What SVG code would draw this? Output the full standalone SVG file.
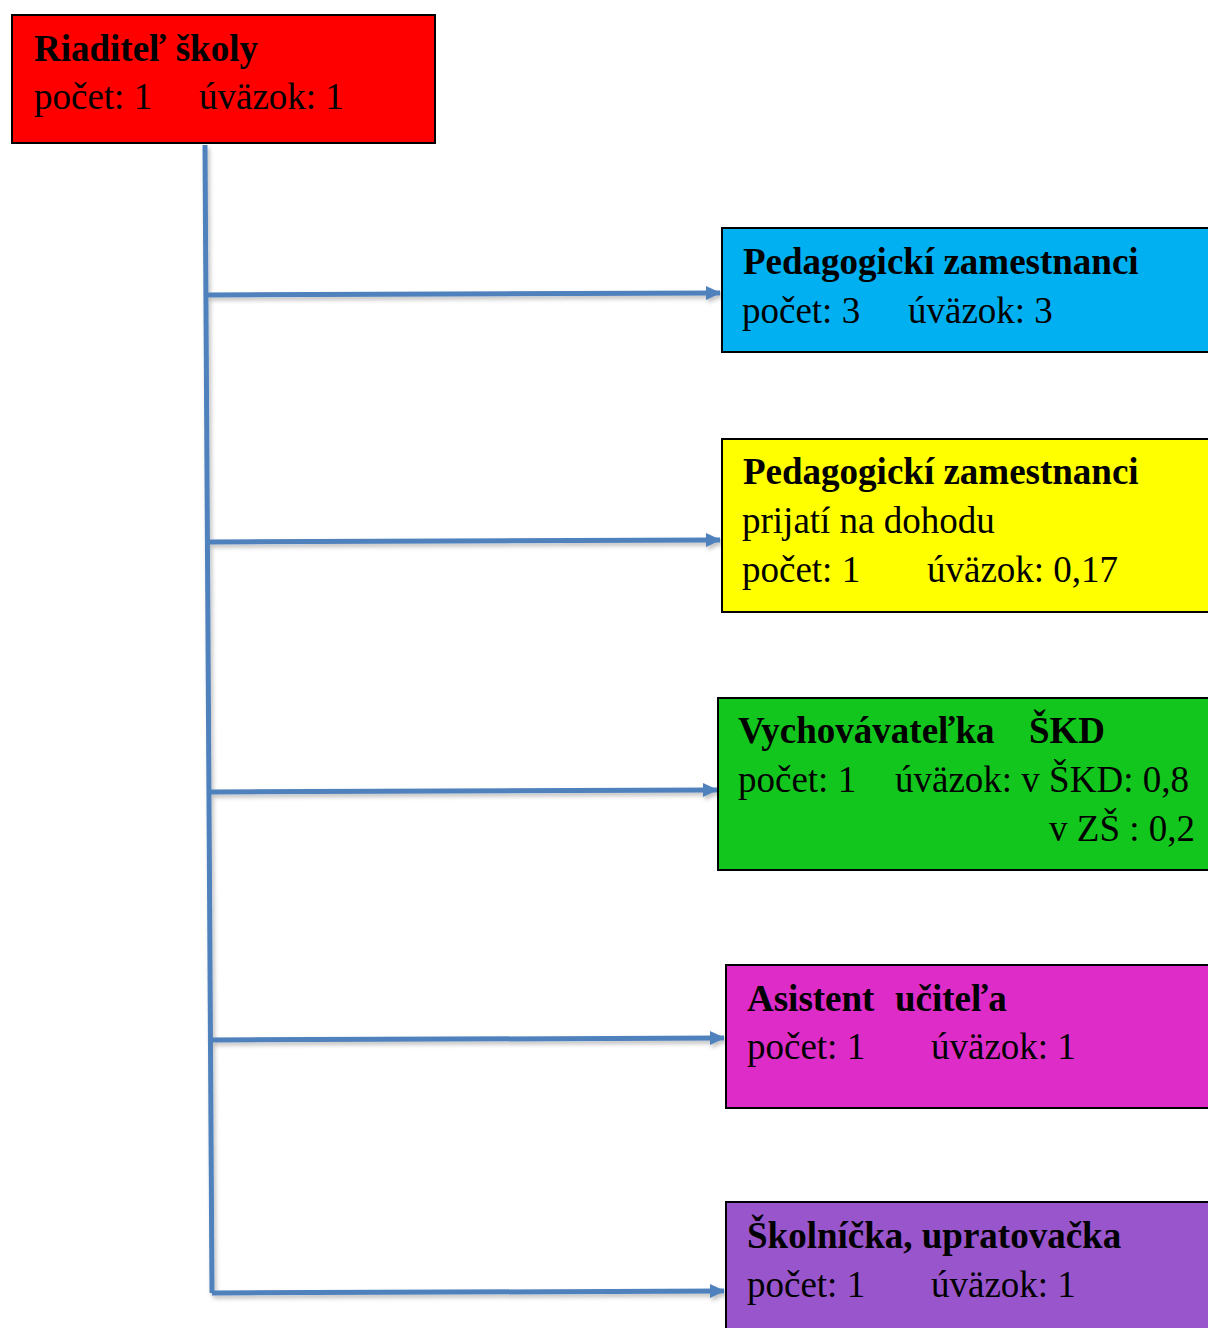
<svg xmlns="http://www.w3.org/2000/svg" width="1208" height="1328" viewBox="0 0 1208 1328">
<style>
.box{stroke:#000;stroke-width:2}
.t{font-family:"Liberation Serif","Times New Roman",serif;font-size:37px;fill:#000}
.b{font-weight:bold}
.c{fill:none;stroke:#4F81BD;stroke-width:5}
</style>
<defs>
<marker id="ah" markerUnits="userSpaceOnUse" markerWidth="16" markerHeight="16" refX="14" refY="8" orient="auto">
<path d="M0,1 L15,8 L0,15 Z" fill="#4F81BD"/>
</marker>
<filter id="sh" x="-5%" y="-5%" width="110%" height="120%">
<feDropShadow dx="2" dy="3" stdDeviation="2" flood-color="#000" flood-opacity="0.25"/>
</filter>
</defs>
<rect width="1208" height="1328" fill="#fff"/>
<g id="connectors" filter="url(#sh)">
<path class="c" d="M205,145 L212,1293" stroke-width="6"/>
<path class="c" d="M208,295 L720,293" marker-end="url(#ah)"/>
<path class="c" d="M209,542 L720,540" marker-end="url(#ah)"/>
<path class="c" d="M210,792 L717,790" marker-end="url(#ah)"/>
<path class="c" d="M211,1040 L724,1038" marker-end="url(#ah)"/>
<path class="c" d="M212,1293 L724,1291" marker-end="url(#ah)"/>
</g>
<g id="riaditel">
<rect class="box" x="12" y="15" width="423" height="128" fill="#FF0000"/>
<text class="t b" x="34" y="61">Riaditeľ školy</text>
<text class="t" x="34" y="109">počet: 1</text>
<text class="t" x="199" y="109">úväzok: 1</text>
</g>
<g id="pedagogicki">
<rect class="box" x="722" y="228" width="490" height="124" fill="#00B0F0"/>
<text class="t b" x="743" y="274">Pedagogickí zamestnanci</text>
<text class="t" x="742" y="323">počet: 3</text>
<text class="t" x="908" y="323">úväzok: 3</text>
</g>
<g id="pedagogicki-dohoda">
<rect class="box" x="722" y="439" width="490" height="173" fill="#FFFF00"/>
<text class="t b" x="743" y="484">Pedagogickí zamestnanci</text>
<text class="t" x="742" y="533">prijatí na dohodu</text>
<text class="t" x="742" y="582">počet: 1</text>
<text class="t" x="927" y="582">úväzok: 0,17</text>
</g>
<g id="vychovavatelka">
<rect class="box" x="718" y="698" width="494" height="172" fill="#13C61D"/>
<text class="t b" x="738" y="743">Vychovávateľka</text>
<text class="t b" x="1029" y="743">ŠKD</text>
<text class="t" x="738" y="792">počet: 1</text>
<text class="t" x="895" y="792">úväzok: v ŠKD: 0,8</text>
<text class="t" x="1195" y="841" text-anchor="end">v ZŠ : 0,2</text>
</g>
<g id="asistent">
<rect class="box" x="726" y="965" width="486" height="143" fill="#DD2CC8"/>
<text class="t b" x="747" y="1011">Asistent</text>
<text class="t b" x="895" y="1011">učiteľa</text>
<text class="t" x="747" y="1059">počet: 1</text>
<text class="t" x="931" y="1059">úväzok: 1</text>
</g>
<g id="skolnicka">
<rect class="box" x="726" y="1202" width="486" height="130" fill="#9955CC"/>
<text class="t b" x="747" y="1248">Školníčka, upratovačka</text>
<text class="t" x="747" y="1297">počet: 1</text>
<text class="t" x="931" y="1297">úväzok: 1</text>
</g>
</svg>
